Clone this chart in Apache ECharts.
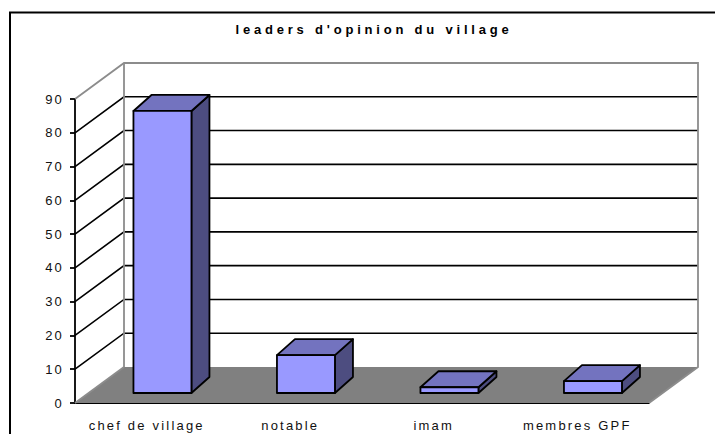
<!DOCTYPE html>
<html>
<head>
<meta charset="utf-8">
<script src="https://cdn.jsdelivr.net/npm/echarts@6/dist/echarts.min.js"></script>
<style>
html,body{margin:0;padding:0;background:#fff}
#c{width:715px;height:434px}
svg text{letter-spacing:2.2px}
svg text[style*="bold"]{letter-spacing:3.8px}
</style>
</head>
<body>
<div id="c"></div>
<script>
const titleText = "leaders d'opinion du village";
const categories = ['chef de village', 'notable', 'imam', 'membres GPF'];
const values = [83.5, 11.2, 1.7, 3.5];
const gridValues = [10, 20, 30, 40, 50, 60, 70, 80];

const DEPTH = [49, -36];
const BAR = { nearX: 15.7, nearY: -10, depthX: 18, depthY: -16, width: 58 };
const C = { front: '#9999FF', top: '#7373BF', side: '#4D4D80', floor: '#808080', wall: '#8C8C8C' };

const chart = echarts.init(document.getElementById('c'), null, { renderer: 'svg' });

function poly(points, fill, stroke, w) {
  return { type: 'polygon', shape: { points }, style: { fill, stroke, lineWidth: w, lineJoin: 'round' } };
}
function line(a, b, stroke, w) {
  return { type: 'line', shape: { x1: a[0], y1: a[1], x2: b[0], y2: b[1] }, style: { stroke, lineWidth: w } };
}

chart.setOption({
  animation: false,
  backgroundColor: '#fff',
  title: {
    text: titleText, left: 369, top: 18, textAlign: 'center',
    textStyle: { fontFamily: 'Liberation Sans', fontSize: 13, fontWeight: 'bold', color: '#000' }
  },
  graphic: [{
    type: 'polyline',
    shape: { points: [[10, 434], [10, 12.5], [715, 12.5]] },
    style: { fill: 'none', stroke: '#000', lineWidth: 2 }
  }],
  grid: { left: 75, right: 66, top: 99, bottom: 31 },
  xAxis: {
    type: 'category', data: categories,
    axisLine: { lineStyle: { color: '#000', width: 1.8 } },
    axisTick: { length: 4, lineStyle: { color: '#000', width: 1.8 } },
    axisLabel: { fontFamily: 'Liberation Sans', fontSize: 13, color: '#111', margin: 16 }
  },
  yAxis: {
    type: 'value', min: 0, max: 90, interval: 10,
    splitLine: { show: false },
    axisLine: { show: true, lineStyle: { color: '#000', width: 1.8 } },
    axisTick: { show: true, length: 5, lineStyle: { color: '#000', width: 1.8 } },
    axisLabel: { fontFamily: 'Liberation Sans', fontSize: 13, color: '#111', margin: 11 }
  },
  series: [
    {
      type: 'custom', coordinateSystem: 'cartesian2d', z: 1, silent: true,
      data: [[0]],
      renderItem(params, api) {
        const r = params.coordSys;
        const L = r.x, R = r.x + r.width;
        const y0 = api.coord([0, 0])[1], y90 = api.coord([0, 90])[1];
        const [dx, dy] = DEPTH;
        const kids = [
          poly([[L, y0], [R, y0], [R + dx, y0 + dy], [L + dx, y0 + dy]], C.floor, 'none', 0)
        ];
        gridValues.forEach(v => {
          const y = api.coord([0, v])[1];
          kids.push({ type: 'polyline', shape: { points: [[L, y], [L + dx, y + dy], [R + dx, y + dy]] },
            style: { fill: 'none', stroke: '#000', lineWidth: 1.6 } });
        });
        kids.push({ type: 'polyline',
          shape: { points: [[L, y90], [L + dx, y90 + dy], [R + dx, y90 + dy], [R + dx, y0 + dy], [R, y0]] },
          style: { fill: 'none', stroke: C.wall, lineWidth: 1.8 } });
        kids.push(line([L + dx, y90 + dy], [L + dx, y0 + dy], C.wall, 1.8));
        kids.push(line([L, y0], [L + dx, y0 + dy], C.wall, 1.8));
        return { type: 'group', children: kids };
      }
    },
    {
      type: 'custom', coordinateSystem: 'cartesian2d', z: 3, silent: true,
      encode: { x: 0, y: 1 },
      data: values.map((v, i) => [i, v]),
      renderItem(params, api) {
        const c = api.coord([api.value(0), 0]);
        const t = api.coord([api.value(0), api.value(1)]);
        const ex = BAR.depthX, ey = BAR.depthY;
        const x0 = c[0] + BAR.nearX - BAR.width / 2, x1 = x0 + BAR.width;
        const yb = c[1] + BAR.nearY, yt = t[1] + BAR.nearY;
        return { type: 'group', children: [
          poly([[x1, yb], [x1 + ex, yb + ey], [x1 + ex, yt + ey], [x1, yt]], C.side, '#000', 1.8),
          poly([[x0, yt], [x1, yt], [x1 + ex, yt + ey], [x0 + ex, yt + ey]], C.top, '#000', 1.8),
          poly([[x0, yb], [x1, yb], [x1, yt], [x0, yt]], C.front, '#000', 1.8)
        ] };
      }
    }
  ]
});
</script>
</body>
</html>
